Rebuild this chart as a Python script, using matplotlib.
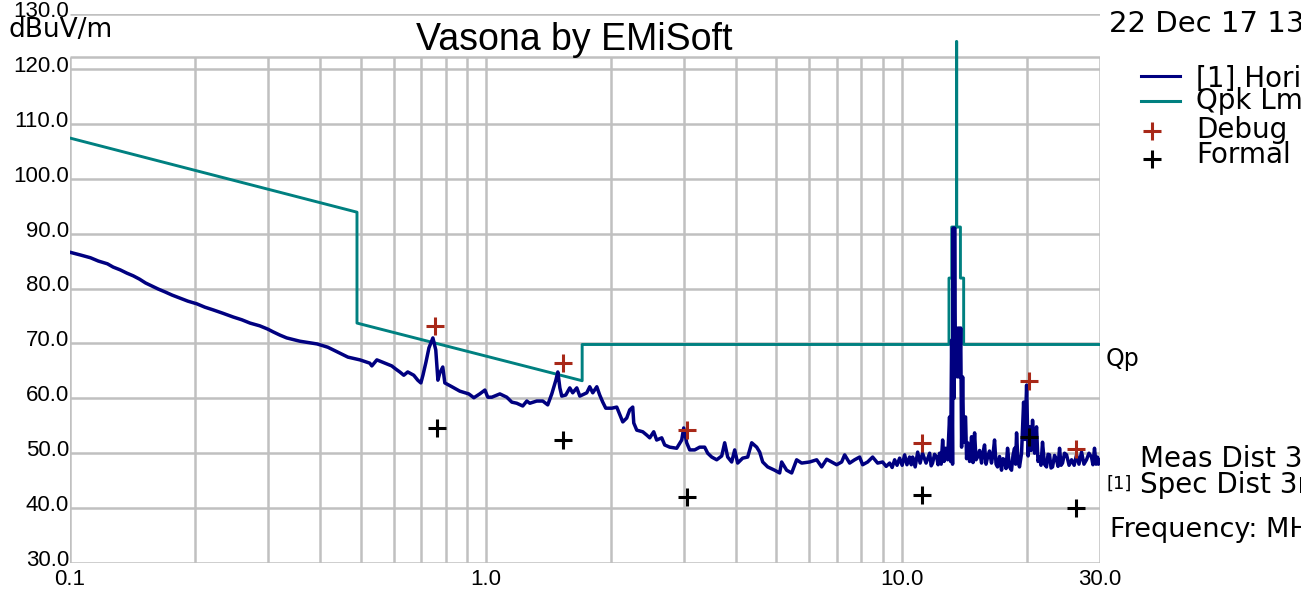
import numpy as np
import matplotlib
matplotlib.use("Agg")
import matplotlib.pyplot as plt
from matplotlib.lines import Line2D
from matplotlib import transforms

plt.rcParams['font.family'] = ['Liberation Sans', 'DejaVu Sans']

# measured horizontal trace [1], MHz / dBuV/m
meas_freq = [0.100, 0.106, 0.112, 0.117, 0.123, 0.127, 0.132, 0.137, 0.142, 0.147,
             0.152, 0.157, 0.163, 0.169, 0.176, 0.183, 0.192, 0.202, 0.211, 0.221,
             0.233, 0.247, 0.259, 0.271, 0.286, 0.299, 0.308, 0.320, 0.332, 0.357,
             0.393, 0.417, 0.441, 0.466, 0.498, 0.526, 0.532, 0.547, 0.572, 0.594,
             0.608, 0.621, 0.635, 0.649, 0.671, 0.686, 0.698, 0.706, 0.718, 0.730,
             0.746, 0.758, 0.767, 0.775, 0.788, 0.797, 0.829, 0.866, 0.910, 0.936,
             0.967, 0.995, 1.011, 1.034, 1.081, 1.123, 1.155, 1.187, 1.227, 1.255,
             1.276, 1.326, 1.371, 1.409, 1.441, 1.474, 1.490, 1.507, 1.523, 1.557,
             1.592, 1.618, 1.655, 1.683, 1.749, 1.778, 1.808, 1.849, 1.879, 1.911,
             1.943, 2.009, 2.065, 2.088, 2.135, 2.182, 2.219, 2.256, 2.269, 2.307,
             2.385, 2.438, 2.479, 2.534, 2.576, 2.649, 2.693, 2.769, 2.878, 2.959,
             2.992, 3.042, 3.093, 3.180, 3.269, 3.360, 3.417, 3.494, 3.592, 3.693,
             3.754, 3.817, 3.902, 3.968, 4.034, 4.147, 4.264, 4.360, 4.482, 4.557,
             4.634, 4.763, 4.951, 5.090, 5.146, 5.291, 5.440, 5.592, 5.749, 6.010,
             6.248, 6.423, 6.603, 6.788, 6.980, 7.175, 7.295, 7.499, 7.709, 7.925,
             8.058, 8.285, 8.517, 8.756, 9.001, 9.18, 9.359, 9.49, 9.621, 9.75,
             9.890, 10.03, 10.17, 10.30, 10.45, 10.55, 10.63, 10.78, 10.93, 11.08,
             11.23, 11.45, 11.68, 11.78, 11.87, 12.00, 12.14, 12.24, 12.34, 12.45,
             12.55, 12.65, 12.76, 12.90, 13.04, 13.12, 13.19, 13.26, 13.30, 13.36,
             13.41, 13.48, 13.56, 13.65, 13.72, 13.80, 13.87, 13.94, 14.02, 14.10,
             14.17, 14.25, 14.33, 14.41, 14.57, 14.73, 14.85, 14.98, 15.10, 15.23,
             15.40, 15.57, 15.70, 15.83, 15.96, 16.10, 16.27, 16.45, 16.59, 16.73,
             16.87, 17.01, 17.20, 17.39, 17.53, 17.68, 17.83, 17.98, 18.18, 18.38,
             18.53, 18.69, 18.80, 18.90, 19.05, 19.21, 19.43, 19.65, 19.80, 19.98,
             20.15, 20.31, 20.48, 20.65, 20.88, 21.11, 21.28, 21.46, 21.64, 21.82,
             22.06, 22.31, 22.50, 22.69, 22.88, 23.07, 23.32, 23.58, 23.78, 23.98,
             24.18, 24.38, 24.65, 24.93, 25.28, 25.63, 26.00, 26.35, 26.70, 27.09,
             27.45, 27.84, 28.22, 28.62, 28.85, 29.10, 29.35, 29.59, 29.75, 29.92]
meas_db = [86.6, 86.1, 85.6, 85.0, 84.5, 83.9, 83.4, 82.8, 82.3, 81.7,
           81.0, 80.5, 79.9, 79.4, 78.8, 78.3, 77.7, 77.2, 76.6, 76.1,
           75.5, 74.8, 74.3, 73.7, 73.2, 72.6, 72.1, 71.5, 71.0, 70.4,
           69.9, 69.3, 68.4, 67.5, 67.0, 66.4, 65.9, 67.0, 66.4, 65.9,
           65.3, 64.8, 64.2, 64.8, 64.2, 63.3, 62.8, 64.2, 66.6, 69.2,
           71.0, 68.8, 63.3, 64.6, 65.7, 62.8, 62.1, 61.3, 60.8, 60.1,
           60.8, 61.5, 60.2, 60.2, 60.8, 60.2, 59.3, 59.1, 58.6, 59.5,
           59.1, 59.5, 59.5, 58.8, 60.8, 63.3, 64.8, 61.9, 60.4, 60.6,
           61.9, 61.0, 61.9, 60.4, 61.0, 62.1, 61.0, 62.1, 60.6, 59.3,
           58.2, 58.2, 58.4, 57.5, 55.7, 56.4, 57.9, 58.4, 55.5, 54.2,
           53.9, 53.3, 52.8, 53.9, 52.4, 52.8, 51.5, 51.1, 50.9, 52.4,
           54.6, 51.9, 50.6, 50.6, 51.1, 51.1, 50.0, 49.3, 48.8, 49.5,
           51.9, 49.3, 48.4, 50.6, 48.2, 49.1, 49.3, 51.9, 51.1, 50.2,
           48.4, 47.5, 46.9, 46.4, 48.4, 46.9, 46.4, 48.8, 48.2, 48.4,
           48.8, 47.5, 48.9, 48.4, 47.9, 48.4, 49.7, 48.2, 48.8, 49.3,
           47.9, 48.4, 49.3, 48.2, 48.4, 47.6, 48.2, 47.4, 48.8, 47.8,
           49.1, 47.8, 49.7, 47.9, 49.3, 47.9, 49.3, 47.5, 50.2, 48.2,
           50.0, 48.2, 50.0, 47.7, 48.2, 49.8, 49.3, 47.9, 50.0, 48.0,
           52.4, 48.5, 50.9, 48.8, 56.6, 48.5, 70.6, 48.0, 91.0, 60.0,
           91.0, 63.9, 72.8, 63.9, 72.8, 63.9, 72.8, 51.1, 63.9, 52.0,
           56.6, 56.6, 49.0, 51.9, 48.5, 53.0, 48.3, 53.7, 48.8, 49.3,
           50.5, 48.2, 50.2, 51.5, 48.0, 49.3, 50.4, 48.2, 49.8, 52.4,
           48.0, 47.5, 49.4, 46.9, 49.0, 48.8, 47.2, 50.9, 47.5, 46.9,
           49.6, 50.9, 48.0, 53.7, 48.5, 47.5, 50.0, 59.3, 52.5, 62.4,
           49.5, 54.8, 50.5, 56.0, 50.0, 54.8, 48.5, 49.3, 47.8, 52.0,
           48.0, 47.5, 49.8, 49.7, 47.3, 47.5, 49.6, 48.8, 47.6, 50.9,
           47.8, 48.2, 50.0, 49.7, 47.8, 48.8, 47.8, 49.7, 48.0, 50.2,
           48.0, 48.8, 50.0, 49.3, 47.9, 50.9, 48.0, 49.3, 48.0, 48.8]

# quasi-peak limit line
lim_freq = [0.1, 0.49, 0.49, 1.705, 1.705, 13.0, 13.0, 13.2, 13.2, 13.55,
            13.55, 13.57, 13.57, 13.85, 13.85, 14.1, 14.1, 30.0]
lim_db = [107.4, 93.9, 73.7, 63.2, 69.8, 69.8, 81.9, 81.9, 91.2, 91.2,
          125.0, 125.0, 91.2, 91.2, 81.9, 81.9, 69.8, 69.8]

# debug / formal peak markers
debug_freq = [0.754, 1.53, 3.04, 11.2, 20.2, 26.3]
debug_db = [73.2, 66.4, 54.2, 51.9, 63.2, 50.8]
formal_freq = [0.763, 1.53, 3.04, 11.2, 20.2, 26.3]
formal_db = [54.6, 52.4, 42.0, 42.4, 53.0, 40.0]

y_ticks = [30, 40, 50, 60, 70, 80, 90, 100, 110, 120, 130]
x_ticks = [0.1, 1.0, 10.0, 30.0]
x_labels = ['0.1', '1.0', '10.0', '30.0']
grid_freq = [0.1, 0.2, 0.3, 0.4, 0.5, 0.6, 0.7, 0.8, 0.9,
             1, 2, 3, 4, 5, 6, 7, 8, 9, 10, 20, 30]

NAVY = '#000080'
TEAL = '#008080'
GRID = '#C0C0C0'
DEBUG = '#A82818'
W, H = 1301, 591

fig = plt.figure(figsize=(W / 100, H / 100), dpi=100)
ax = fig.add_axes([70 / W, 28 / H, 1030 / W, 549 / H])
ax.set_xscale('log')
ax.set_xlim(0.1, 30)
ax.set_ylim(30, 130)
for s in ax.spines.values():
    s.set_visible(False)

box_top = 122.2
ax.vlines(grid_freq, 30, box_top, color=GRID, lw=1.8, zorder=1)
ax.hlines(y_ticks + [box_top], 0.1, 30, color=GRID, lw=1.8, zorder=1)

ax.plot(lim_freq, lim_db, color=TEAL, lw=2.1, zorder=2)
ax.plot(meas_freq, meas_db, color=NAVY, lw=2.5, zorder=3)
ax.plot(debug_freq, debug_db, ls='none', marker='+', ms=13, mew=2.2,
        color=DEBUG, zorder=4)
ax.plot(formal_freq, formal_db, ls='none', marker='+', ms=13, mew=2.2,
        color='black', zorder=4)

ax.set_xticks(x_ticks)
ax.set_xticklabels(x_labels, fontsize=16)
ax.xaxis.set_minor_locator(matplotlib.ticker.NullLocator())
ax.tick_params(axis='x', length=0, pad=4)
ax.set_yticks([])

off = transforms.ScaledTranslation(-1 / 100, -3 / 100, fig.dpi_scale_trans)
ytrans = transforms.blended_transform_factory(ax.transAxes, ax.transData) + off
for v in y_ticks:
    ax.text(0, v, f'{v:.1f}', transform=ytrans, ha='right', va='baseline',
            fontsize=16, clip_on=False)


def ftext(x, y, s, size, family='DejaVu Sans', **kw):
    fig.text(x / W, 1 - y / H, s, fontsize=size, va='baseline', family=family, **kw)


ftext(9, 37, 'dBuV/m', 19)
ftext(574, 50, 'Vasona by EMiSoft', 27, family='Liberation Sans', ha='center')
ftext(1109, 32, '22 Dec 17 13:40', 21)

# legend at right
leg_y = [76, 101, 131, 159]
fig.add_artist(Line2D([1141 / W, 1180 / W], [1 - leg_y[0] / H] * 2, color=NAVY, lw=2.2))
fig.add_artist(Line2D([1141 / W, 1180 / W], [1 - leg_y[1] / H] * 2, color=TEAL, lw=2.2))
fig.add_artist(Line2D([1152 / W], [1 - leg_y[2] / H], marker='+', ms=13, mew=2.2, color=DEBUG))
fig.add_artist(Line2D([1152 / W], [1 - leg_y[3] / H], marker='+', ms=13, mew=2.2, color='black'))
ftext(1196, 87, '[1] Horizontal', 20)
ftext(1196, 109, 'Qpk Lmt', 20)
ftext(1196, 138, 'Debug', 20)
ftext(1196, 163, 'Formal', 20)

ftext(1106, 366, 'Qp', 17)
ftext(1140, 467, 'Meas Dist 3m', 20)
ftext(1106, 489, '[1]', 13)
ftext(1140, 493, 'Spec Dist 3m', 20)
ftext(1110, 537, 'Frequency: MHz', 19.5)

fig.savefig('out.png', dpi=100)
